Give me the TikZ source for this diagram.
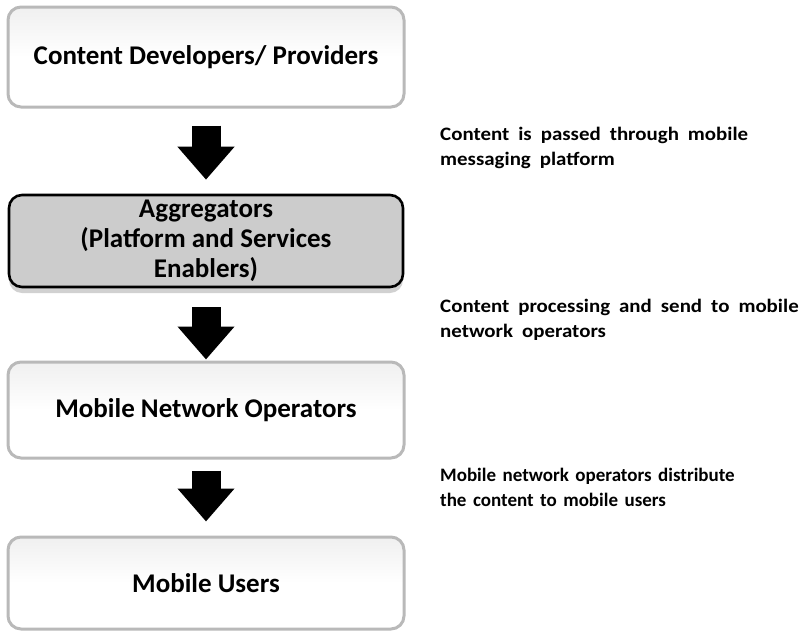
\documentclass[tikz,border=0pt]{standalone}
\usepackage{fontspec}
\setmainfont{Carlito}
\newfontfamily\notewide[FakeStretch=1.1]{Carlito}
\newcommand\widespaces{\spaceskip=9pt plus 2pt\relax}
\newcommand\plainspaces{\spaceskip=6.5pt plus 2pt\relax}
\usetikzlibrary{arrows.meta,shadows}
\begin{document}
\begin{tikzpicture}[x=1pt,y=-1pt,
  lightbox/.style={rectangle,rounded corners=13pt,draw=gray!55,line width=3pt,
    top color=gray!12,bottom color=white,middle color=white,
    minimum width=396pt,align=center,inner sep=0pt,
    font=\fontsize{27}{30}\selectfont\bfseries},
  darkbox/.style={rectangle,rounded corners=13pt,draw=black,line width=2.6pt,
    fill=gray!40,minimum width=394pt,align=center,inner sep=0pt,
    drop shadow={shadow xshift=0pt,shadow yshift=-6pt,fill=gray!45,opacity=0.8},
    font=\fontsize{27}{30}\selectfont\bfseries},
  note/.style={anchor=west,align=left,inner sep=0pt,
    font=\notewide\fontsize{19}{25}\selectfont\bfseries\widespaces},
  noteplain/.style={anchor=west,align=left,inner sep=0pt,
    font=\fontsize{19}{25}\selectfont\bfseries\plainspaces},
  blockarrow/.style={line width=29pt,black,-{Triangle[width=55pt,length=33pt]}}
]
\useasboundingbox (0,0) rectangle (804,630);
\node[lightbox,minimum height=100pt] (b1) at (206,57) {Content Developers/ Providers};
\node[darkbox,minimum height=92pt] (b2) at (206,241) {Aggregators\\(Platform and Services\\Enablers)};
\node[lightbox,minimum height=96pt] (b3) at (206,410) {Mobile Network Operators};
\node[lightbox,minimum height=92pt] (b4) at (206,583) {Mobile Users};

\draw[blockarrow] ([yshift=-17pt]b1.south) -- ([yshift=14pt]b2.north);
\draw[blockarrow] ([yshift=-19pt]b2.south) -- ([yshift=1pt]b3.north);
\draw[blockarrow] ([yshift=-11pt]b3.south) -- ([yshift=14pt]b4.north);

\node[note] (t1) at (440,147.5) {Content is passed through mobile\\messaging platform};
\node[note] (t2) at (440,320) {Content processing and send to mobile\\network operators};
\node[noteplain] (t3) at (440,487.5) {Mobile network operators distribute\\the content to mobile users};
\end{tikzpicture}
\end{document}
